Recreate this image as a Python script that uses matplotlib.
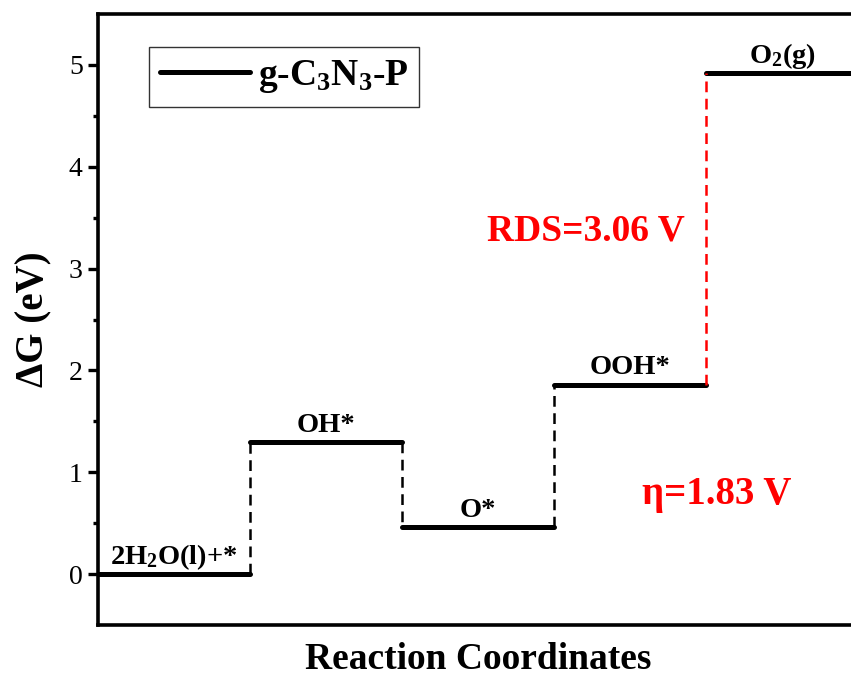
import matplotlib
matplotlib.use("Agg")
import matplotlib.pyplot as plt

plt.rcParams['font.family'] = ['Liberation Serif', 'DejaVu Serif']
plt.rcParams['mathtext.default'] = 'regular'

# free energy levels of the OER steps
steps = ['2H$_2$O(l)+*', 'OH*', 'O*', 'OOH*', 'O$_2$(g)']
energies = [0.0, 1.30, 0.46, 1.86, 4.92]
rds_step = 3          # index of the step after which the RDS occurs
rds_text = 'RDS=3.06 V'
eta_text = '\u03b7=1.83 V'
yticks = [0, 1, 2, 3, 4, 5]

fig = plt.figure(figsize=(8.51, 6.75), dpi=100)
ax = fig.add_axes([98 / 851, 50 / 675, 760 / 851, 611 / 675])

for i, e in enumerate(energies):
    ax.plot([i, i + 1], [e, e], color='black', lw=3.6, solid_capstyle='round',
            label='g-C$_3$N$_3$-P' if i == 0 else None)
    ax.text(i + 0.5, e + 0.1, steps[i], ha='center', va='baseline',
            fontsize=20.5, fontweight='bold')

for i in range(1, len(energies)):
    col = 'red' if i == rds_step + 1 else 'black'
    ax.plot([i, i], [energies[i - 1], energies[i]], color=col, lw=1.8,
            dashes=(4.3, 2.6))

ax.text(3.86, 3.37, rds_text, ha='right', va='center', color='red',
        fontsize=27, fontweight='bold')
ax.text(4.07, 0.78, eta_text, ha='center', va='center', color='red',
        fontsize=28, fontweight='bold')

ax.set_xlim(0, 5)
ax.set_ylim(-0.5, 5.5)
ax.set_xticks([])
ax.set_yticks(yticks)
ax.set_yticks([0.5, 1.5, 2.5, 3.5, 4.5], minor=True)
ax.tick_params(axis='y', which='major', direction='out', length=7, width=2.4,
               labelsize=20, pad=4)
ax.tick_params(axis='y', which='minor', direction='out', length=3.5, width=2.4)
for s in ax.spines.values():
    s.set_linewidth(2.6)

ax.set_ylabel('\u0394G (eV)', fontsize=28, fontweight='bold', labelpad=12)
ax.set_xlabel('Reaction Coordinates', fontsize=27, fontweight='bold', labelpad=12)

leg = ax.legend(loc='upper left', bbox_to_anchor=(51 / 760, 578 / 611),
                borderaxespad=0, handlelength=2.4,
                handletextpad=0.2, borderpad=0.3, fancybox=False,
                prop={'weight': 'bold', 'size': 27})
leg.get_frame().set_edgecolor('black')
leg.get_frame().set_linewidth(1.0)

fig.savefig('out.png', dpi=100)
